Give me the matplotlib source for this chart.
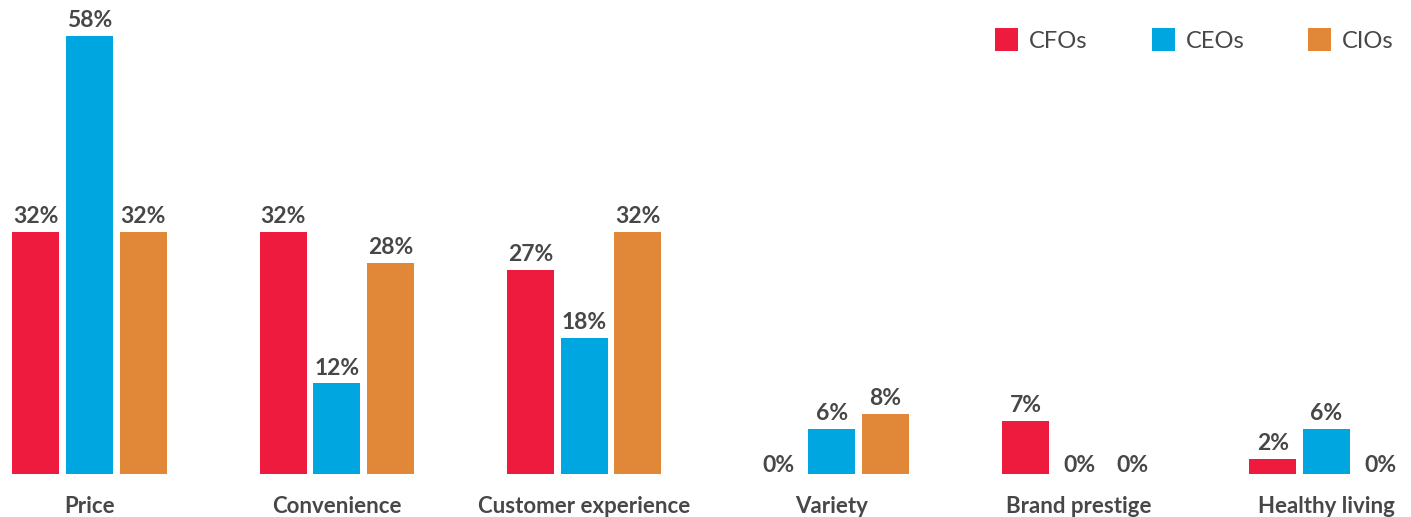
import matplotlib
matplotlib.use("Agg")
import matplotlib.pyplot as plt
from matplotlib.patches import Rectangle

categories = ["Price", "Convenience", "Customer experience", "Variety", "Brand prestige", "Healthy living"]
series_names = ["CFOs", "CEOs", "CIOs"]
cfos = [32, 32, 27, 0, 7, 2]
ceos = [58, 12, 18, 6, 0, 6]
cios = [32, 28, 32, 8, 0, 0]
colors = ["#ee1b3e", "#00a6df", "#e08837"]

plt.rcParams["font.family"] = ["Lato", "DejaVu Sans"]
text_color = "#474747"

fig = plt.figure(figsize=(14.11, 5.17), dpi=100)
ax = fig.add_axes([0, 0, 1, 1])
ax.set_xlim(-0.3618, 5.3416)
ax.set_ylim(-5.69, 62.76)
ax.axis("off")

pitch = 0.2163
width = 0.19
for i, (vals, col) in enumerate(zip([cfos, ceos, cios], colors)):
    xs = [g + (i - 1) * pitch for g in range(len(categories))]
    ax.bar(xs, vals, width=width, color=col, linewidth=0)
    for x, v in zip(xs, vals):
        off = 3.5 if v > 0 else -1.5
        ax.annotate(f"{v}%", (x, v), xytext=(0, off), textcoords="offset points",
                    ha="center", va="bottom", fontsize=16.5, fontweight="bold",
                    color=text_color)

for g, name in enumerate(categories):
    ax.text(g, -4.3, name, ha="center", va="center", fontsize=16,
            fontweight="bold", color=text_color)

# legend drawn in figure pixel coordinates
legend_x = [995, 1152, 1308]
for lx, name, col in zip(legend_x, series_names, colors):
    fig.patches.append(Rectangle((lx / 1411, 1 - 51 / 517), 23 / 1411, 23 / 517,
                                 transform=fig.transFigure, color=col, linewidth=0))
    fig.text((lx + 34) / 1411, 1 - 41 / 517, name, ha="left", va="center",
             fontsize=17, color=text_color)

fig.savefig("out.png", dpi=100)
